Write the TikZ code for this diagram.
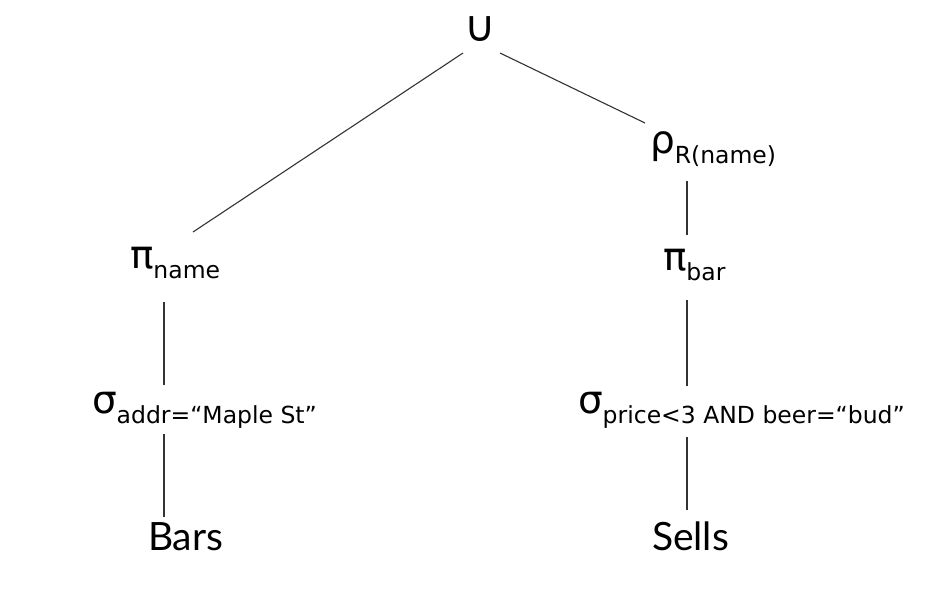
\documentclass[tikz,border=0pt]{standalone}
\usepackage{fontspec}
\setmainfont{Lato}
\newfontfamily\symfont{DejaVu Sans}
\newcommand{\bigsz}{\fontsize{39}{40}\selectfont}
\newcommand{\grk}[1]{{\symfont\fontsize{39}{40}\selectfont #1}}
\newcommand{\subsz}{\symfont\fontsize{23.5}{26}\selectfont}
\newcommand{\opsub}[2]{\grk{#1}{\subsz\raisebox{-10pt}{#2}}}
\begin{document}
\begin{tikzpicture}[x=1pt,y=-1pt,
  lbl/.style={anchor=base west,inner sep=0pt,outer sep=0pt},
  edge/.style={draw=black!80,line width=1.1pt}]
\useasboundingbox (0,0) rectangle (950,590);
% nodes
\node[inner sep=0pt] (cup) at (480,29) {\symfont\fontsize{43}{45}\selectfont ∪};
\node[lbl] (rho) at (650,153) {\opsub{ρ}{R(name)}};
\node[lbl] (pibar) at (663,270) {\opsub{π}{bar}};
\node[lbl] (sigp) at (578,413) {\opsub{σ}{price<3 AND beer=“bud”}};
\node[lbl] (sells) at (652,550) {\bigsz Sells};
\node[lbl] (piname) at (130,268) {\opsub{π}{name}};
\node[lbl] (siga) at (92,413) {\opsub{σ}{addr=“Maple St”}};
\node[lbl] (bars) at (148,550) {\bigsz Bars};
% connector end points
\coordinate (cupL) at (463,53);
\coordinate (cupR) at (500,53);
\coordinate (pinameT) at (193,232);
\coordinate (rhoT) at (645,123);
\coordinate (rhoB) at (687,181);
\coordinate (pibarT) at (687,235);
\coordinate (pibarB) at (687,300);
\coordinate (sigpT) at (687,386);
\coordinate (sigpB) at (687,437);
\coordinate (sellsT) at (687,510);
\coordinate (pinameB) at (164,302);
\coordinate (sigaT) at (164,385);
\coordinate (sigaB) at (164,434);
\coordinate (barsT) at (164,517);
% connectors
\draw[edge] (cupL) -- (pinameT);
\draw[edge] (cupR) -- (rhoT);
\draw[edge] (rhoB) -- (pibarT);
\draw[edge] (pibarB) -- (sigpT);
\draw[edge] (sigpB) -- (sellsT);
\draw[edge] (pinameB) -- (sigaT);
\draw[edge] (sigaB) -- (barsT);
\end{tikzpicture}
\end{document}
